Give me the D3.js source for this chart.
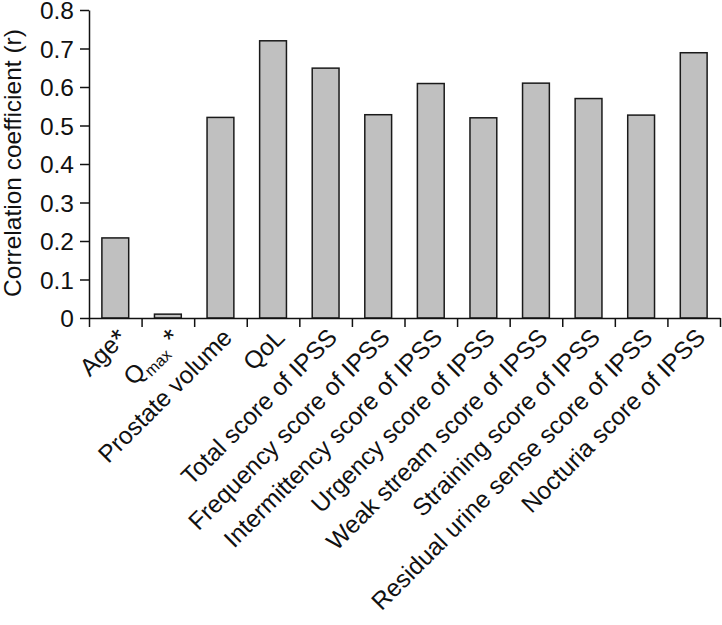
<!DOCTYPE html>
<html>
<head>
<meta charset="utf-8">
<script src="https://cdn.jsdelivr.net/npm/d3@7"></script>
<style>
  body { margin: 0; background: #fff; }
  text { font-family: "Liberation Sans", Arial, sans-serif; }
</style>
</head>
<body>
<div id="chart"></div>
<script>
// correlation of each parameter with the outcome
var categories = ["Age", "Qmax", "Prostate volume", "QoL", "Total score of IPSS",
  "Frequency score of IPSS", "Intermittency score of IPSS", "Urgency score of IPSS",
  "Weak stream score of IPSS", "Straining score of IPSS",
  "Residual urine sense score of IPSS", "Nocturia score of IPSS"];
var values = [0.208, 0.01, 0.521, 0.72, 0.649, 0.528, 0.609, 0.52, 0.61, 0.57, 0.527, 0.689];
var starred = [true, true, false, false, false, false, false, false, false, false, false, false];
var yTicks = [0, 0.1, 0.2, 0.3, 0.4, 0.5, 0.6, 0.7, 0.8];

var svgWidth = 722;
var svgHeight = 625;
var margin = { top: 10, right: 2, bottom: 307, left: 89 };
var width = svgWidth - margin.left - margin.right;
var height = svgHeight - margin.top - margin.bottom;

var svg = d3.select("#chart")
  .append("svg")
  .attr("width", svgWidth)
  .attr("height", svgHeight);

var chartGroup = svg.append("g")
  .attr("transform", `translate(${margin.left}, ${margin.top})`);

var xBand = d3.scaleBand()
  .domain(categories)
  .range([0, width])
  .padding(0);

// boundary ticks between the categories
var xEdge = d3.scaleLinear()
  .domain([0, categories.length])
  .range([0, width]);

var yLinearScale = d3.scaleLinear()
  .domain([0, 0.8])
  .range([height, 0]);

// bars
var barW = xBand.bandwidth() * 0.51;
chartGroup.selectAll("rect.bar")
  .data(values)
  .enter()
  .append("rect")
  .attr("class", "bar")
  .attr("x", (d, i) => xBand(categories[i]) + (xBand.bandwidth() - barW) / 2)
  .attr("y", d => yLinearScale(d))
  .attr("width", barW)
  .attr("height", d => height - yLinearScale(d))
  .attr("fill", "#c0c0c0")
  .attr("stroke", "#1a1a1a")
  .attr("stroke-width", 1.5);

// y axis
var leftAxis = d3.axisLeft(yLinearScale)
  .tickValues(yTicks)
  .tickSize(9)
  .tickSizeOuter(0)
  .tickPadding(6)
  .tickFormat(d => d === 0 ? "0" : d3.format(".1f")(d));

var yAxis = chartGroup.append("g").call(leftAxis);
yAxis.selectAll("text").attr("font-size", "24.5px").attr("fill", "#111")
  .attr("font-family", "Liberation Sans, Arial, sans-serif").attr("dy", "0.36em");
yAxis.selectAll("line, path").attr("stroke", "#111").attr("stroke-width", 1.5);

// x axis with ticks on band edges
var bottomAxis = d3.axisBottom(xEdge)
  .tickValues(d3.range(categories.length + 1))
  .tickSize(9)
  .tickSizeOuter(0)
  .tickFormat("");

var xAxis = chartGroup.append("g")
  .attr("transform", `translate(0, ${height})`)
  .call(bottomAxis);
xAxis.selectAll("line, path").attr("stroke", "#111").attr("stroke-width", 1.5);

// rotated category labels
var labels = chartGroup.selectAll("text.xlab")
  .data(categories)
  .enter()
  .append("text")
  .attr("class", "xlab")
  .attr("transform", d => `translate(${xBand(d) + xBand.bandwidth() / 2 + 13}, ${height + 21}) rotate(-45)`)
  .attr("text-anchor", "end")
  .attr("font-size", "24.5px")
  .attr("fill", "#111");

labels.each(function(d, i) {
  var t = d3.select(this);
  if (d === "Qmax") {
    t.append("tspan").text("Q");
    t.append("tspan").attr("font-size", "16px").attr("dy", 6).text("max");
    t.append("tspan").attr("dy", -6).text(" ");
    t.append("tspan").attr("font-size", "28px").attr("dy", 2).text("*");
  } else if (starred[i]) {
    t.append("tspan").text(d);
    t.append("tspan").attr("font-size", "28px").attr("dy", 2).text("*");
  } else {
    t.text(d);
  }
});

// y axis title
svg.append("text")
  .attr("transform", "rotate(-90)")
  .attr("x", -163)
  .attr("y", 21)
  .attr("text-anchor", "middle")
  .attr("font-size", "24.5px")
  .attr("fill", "#111")
  .text("Correlation coefficient (r)");
</script>
</body>
</html>
